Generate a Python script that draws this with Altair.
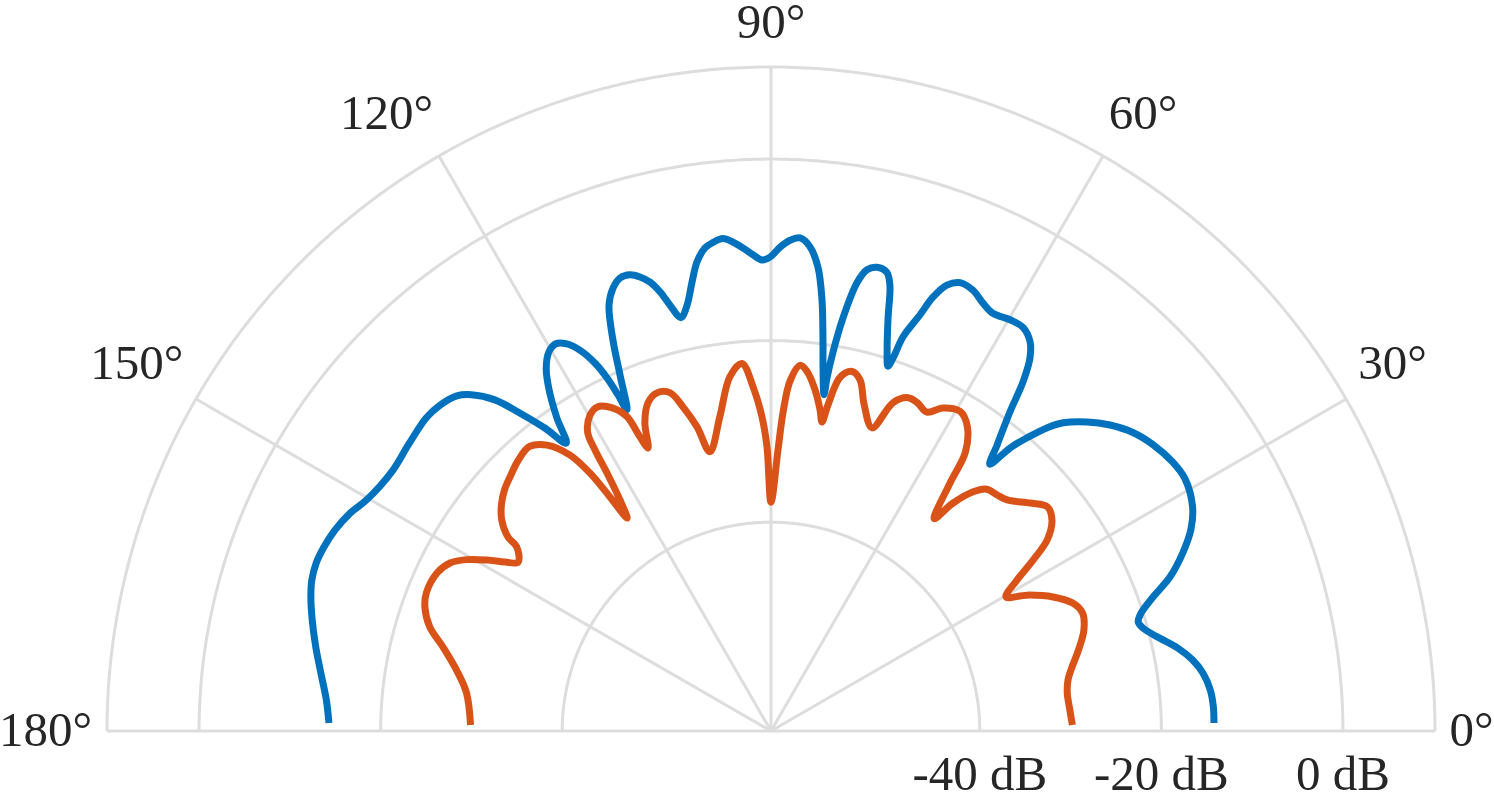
import altair as alt
import pandas as pd

# radial axis limits (dB) and pixel scale of the plot area
R_MIN = -63.0
R_MAX = 10.14
SPAN = R_MAX - R_MIN
PX = 664 / SPAN  # pixels per dB unit

blue_deg = [1.03, 3.11, 5.34, 7.65, 9.55, 11.55, 13.69, 15.48, 16.54, 17.69, 19.33, 21.1, 23.37, 25.63,
            28.02, 31.37, 33.79, 36.82, 39.46, 42.07, 44.36, 46.52, 47.67, 48.86, 49.82, 50.64, 51.69,
            53.17, 54.17, 55.22, 56.35, 57.98, 59.82, 62.03, 63.65, 65.39, 67.13, 68.47, 69.53, 70.3,
            71.48, 71.89, 72.23, 72.98, 74.18, 75.06, 75.82, 77.13, 78.24, 79.13, 80.11, 80.71, 80.99,
            81.04, 81.8, 82.42, 83.25, 84.2, 85.39, 86.63, 87.78, 88.93, 90.12, 91.09, 92.17, 93.32,
            94.44, 95.57, 96.76, 97.78, 98.97, 99.98, 101.15, 102.29, 103.34, 104.19, 105.08, 106.1,
            107.18, 108.43, 109.63, 110.82, 112.0, 112.98, 114.16, 114.48, 114.92, 115.56, 116.63,
            117.8, 119.05, 120.36, 121.79, 123.06, 124.36, 125.44, 126.72, 128.29, 129.83, 131.69,
            133.16, 135.44, 137.7, 141.6, 145.58, 150.24, 152.63, 155.35, 157.67, 159.7, 161.75,
            163.73, 166.38, 169.52, 172.64, 176.0, 178.96]
blue_db = [-14.2, -14.2, -14.4, -15.0, -15.9, -17.3, -19.2, -20.5, -20.8, -20.2, -18.4, -15.9, -13.6, -11.7,
           -10.4, -9.6, -9.75, -10.4, -11.3, -12.7, -14.3, -16.2, -17.8, -20.1, -22.2, -25.0, -22.8,
           -19.1, -15.6, -13.0, -11.5, -10.6, -10.6, -10.9, -10.4, -9.6, -9.4, -10.2, -12.0, -14.3,
           -17.2, -19.8, -20.8, -19.3, -15.7, -12.2, -10.9, -10.6, -11.1, -12.7, -16.8, -20.7, -23.6,
           -25.5, -22.8, -19.6, -15.2, -11.7, -9.5, -8.6, -8.9, -9.7, -10.8, -11.1, -10.5, -9.7,
           -9.0, -8.5, -8.8, -9.3, -10.7, -12.8, -15.2, -16.4, -14.8, -13.1, -11.8, -10.95,
           -10.4, -10.4, -11.2, -12.8, -16.5, -20.4, -24.2, -22.3, -20.1, -18.1, -16.1,
           -14.8, -14.2, -14.6, -16.0, -18.2, -21.2, -24.1, -21.4, -18.4, -15.5, -13.4,
           -12.4, -11.85, -11.7, -12.1, -12.4, -11.7, -10.8, -10.1, -9.75, -9.6, -9.75,
           -10.2, -11.0, -12.0, -13.0, -13.9, -14.3]

orange_deg = [1.14, 4.0, 7.29, 9.78, 12.0, 14.69, 17.83, 20.72, 22.97, 25.42, 27.98, 29.69, 31.54, 33.13,
              34.68, 36.9, 39.06, 41.36, 44.38, 46.24, 48.25, 49.8, 51.4, 52.44, 54.18, 55.1, 57.18,
              59.35, 61.97, 63.94, 65.99, 67.64, 69.6, 71.57, 74.08, 75.77, 77.29, 78.94, 80.08,
              80.63, 81.32, 82.65, 84.27, 85.46, 86.89, 87.84, 88.57, 90.0, 90.81, 91.64, 93.0,
              94.52, 96.61, 99.23, 102.33, 103.68, 105.2, 106.64, 108.64, 110.56, 112.25, 113.49,
              114.02, 114.63, 116.07, 118.1, 119.8, 121.55, 122.06, 122.44, 123.17, 124.06, 124.53,
              125.06, 126.07, 128.07, 130.31, 133.03, 135.45, 137.82, 139.92, 141.89, 143.59,
              144.08, 146.26, 147.57, 148.94, 150.64, 152.37, 154.68, 158.14, 160.28, 163.04,
              165.64, 169.01, 172.88, 178.85]
orange_db = [-29.8, -30.0, -30.1, -29.8, -29.1, -28.0, -26.8, -26.3, -26.9, -28.6, -31.1, -33.2, -31.2, -28.5,
             -26.0, -24.3, -23.8, -25.0, -26.6, -27.0, -27.3, -28.5, -30.9, -33.5, -29.3, -25.6, -23.1,
             -22.1, -22.7, -23.9, -23.4, -23.3, -24.4, -27.8, -25.6, -23.1, -22.4, -23.3, -26.5,
             -28.5, -27.2, -25.1, -23.2, -22.6, -24.4, -27.9, -32.0, -37.8, -31.7, -28.4, -25.0,
             -22.4, -23.7, -27.9, -31.5, -28.5, -26.0, -24.1, -23.7, -24.4, -26.3, -29.0,
             -27.5, -24.9, -23.4, -22.5, -22.9, -24.4, -26.5, -29.3, -32.6, -34.7, -31.7,
             -28.3, -25.4, -23.0, -21.9, -22.2, -22.8, -23.4, -24.2, -25.3, -27.0,
             -28.4, -29.5, -28.3, -26.5, -24.5, -23.1, -22.3, -22.1, -22.5, -23.7,
             -25.7, -27.7, -29.2, -29.9]

ring_levels = [-40, -20, 0, R_MAX]
spoke_deg = [0, 30, 60, 90, 120, 150, 180]
tick_labels = ["0°", "30°", "60°", "90°", "120°", "150°", "180°"]
db_levels = [-40, -20, 0]
db_labels = ["-40 dB", "-20 dB", "0 dB"]

FONT = "Liberation Serif"
FS = 49
GRID = "#dddddd"
TXT = "#262626"

xs = alt.Scale(domain=[-SPAN, SPAN], nice=False, zero=False)
ys = alt.Scale(domain=[0, SPAN], nice=False, zero=False)


def pos(r_expr, t_expr):
    return dict(
        px=f"({r_expr}) * cos(({t_expr}) * PI / 180)",
        py=f"({r_expr}) * sin(({t_expr}) * PI / 180)",
    )


def xy():
    return dict(x=alt.X("px:Q", scale=xs, axis=None), y=alt.Y("py:Q", scale=ys, axis=None))


rings = (
    alt.Chart(pd.DataFrame({"level": ring_levels}))
    .transform_calculate(ang="sequence(0, 180.5, 0.5)")
    .transform_flatten(["ang"])
    .transform_calculate(**pos(f"datum.level - ({R_MIN})", "datum.ang"))
    .mark_line(stroke=GRID, strokeWidth=3)
    .encode(**xy(), detail="level:N", order="ang:Q")
)

spokes = (
    alt.Chart(pd.DataFrame({"deg": spoke_deg}))
    .transform_calculate(**pos(f"{SPAN}", "datum.deg"), ox="0", oy="0")
    .mark_rule(stroke=GRID, strokeWidth=3)
    .encode(x=alt.X("ox:Q", scale=xs, axis=None), y=alt.Y("oy:Q", scale=ys, axis=None),
            x2="px:Q", y2="py:Q")
)


def curve(deg, db, color):
    return (
        alt.Chart(pd.DataFrame({"deg": deg, "db": db}))
        .transform_calculate(**pos(f"max(0, datum.db - ({R_MIN}))", "datum.deg"))
        .mark_line(stroke=color, strokeWidth=7, interpolate="catmull-rom",
                   strokeCap="butt", strokeJoin="round")
        .encode(**xy(), order="deg:Q")
    )


blue = curve(blue_deg, blue_db, "#0072BD")
orange = curve(orange_deg, orange_db, "#D95319")

# angular tick labels: anchored just outside the outer ring, aligned away from the centre
tick_text = (
    alt.Chart(pd.DataFrame({"deg": spoke_deg, "label": tick_labels}))
    .transform_calculate(
        w=f"((length(datum.label) - 1) * 12.5 + 6) / {PX}",
        s="datum.deg < 89 ? 1 : (datum.deg > 91 ? -1 : 0)",
        v=f"(datum.deg > 1 && datum.deg < 179) ? 26.5 / {PX} : 0",
        ra=f"{SPAN} + 18 / {PX}",
    )
    .transform_calculate(
        px="datum.ra * cos(datum.deg * PI / 180) + datum.s * datum.w",
        py="datum.ra * sin(datum.deg * PI / 180) + datum.v",
    )
    .mark_text(font=FONT, fontSize=FS, color=TXT, align="center", baseline="middle")
    .encode(**xy(), text="label:N")
)

db_text = (
    alt.Chart(pd.DataFrame({"level": db_levels, "label": db_labels}))
    .transform_calculate(px=f"datum.level - ({R_MIN})", py="0")
    .mark_text(font=FONT, fontSize=FS, color=TXT, align="center", baseline="middle", dy=44)
    .encode(**xy(), text="label:N")
)

chart = (
    alt.layer(rings, spokes, blue, orange, tick_text, db_text)
    .properties(
        width=1328,
        height=664,
        autosize=alt.AutoSizeParams(type="none"),
        padding={"left": 107, "top": 67, "right": 59, "bottom": 63},
    )
    .configure_view(stroke=None)
)

chart.save("out.html", embed_options={"renderer": "svg", "actions": False})
